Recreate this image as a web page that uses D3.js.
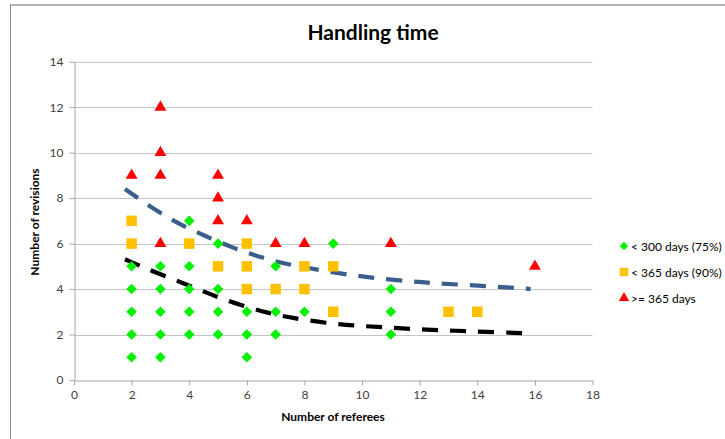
<!DOCTYPE html>
<html>
<head>
<meta charset="utf-8">
<script src="https://cdn.jsdelivr.net/npm/d3@7"></script>
<style>
  body { margin: 0; background: #fff; }
  svg { display: block; }
  text { font-family: Lato, "Liberation Sans", sans-serif; }
</style>
</head>
<body>
<svg id="chart" width="725" height="439"></svg>
<script>
// Axis ticks
const xTicks = [0, 2, 4, 6, 8, 10, 12, 14, 16, 18];
const yTicks = [0, 2, 4, 6, 8, 10, 12, 14];

// < 300 days (75%)
const fastRefs = [2, 2, 2, 2, 2, 3, 3, 3, 3, 3, 4, 4, 4, 4, 4, 5, 5, 5, 5, 6, 6, 6, 7, 7, 7, 8, 9, 11, 11, 11];
const fastRevs = [1, 2, 3, 4, 5, 1, 2, 3, 4, 5, 2, 3, 4, 5, 7, 2, 3, 4, 6, 1, 2, 3, 2, 3, 5, 3, 6, 2, 3, 4];

// < 365 days (90%)
const midRefs = [2, 2, 4, 5, 6, 6, 6, 7, 8, 8, 9, 9, 13, 14];
const midRevs = [6, 7, 6, 5, 4, 5, 6, 4, 4, 5, 3, 5, 3, 3];

// >= 365 days
const slowRefs = [2, 3, 3, 3, 3, 5, 5, 5, 6, 7, 8, 11, 16];
const slowRevs = [9, 6, 9, 10, 12, 7, 8, 9, 7, 6, 6, 6, 5];

// Trend curves
const upperTrendX = [1.77, 2.8, 3.68, 4.6, 5.53, 6.57, 7.43, 9.47, 10.5, 11.7, 12.47, 13.5, 14.55, 15.5, 15.85];
const upperTrendY = [8.4, 7.49, 6.83, 6.31, 5.8, 5.36, 5.07, 4.63, 4.48, 4.33, 4.26, 4.19, 4.11, 4.04, 4.0];
const lowerTrendX = [1.77, 2.75, 3.8, 4.78, 5.76, 6.75, 7.6, 8.77, 9.76, 10.74, 11.72, 12.77, 13.75, 14.8, 15.85];
const lowerTrendY = [5.31, 4.77, 4.26, 3.74, 3.3, 2.94, 2.72, 2.5, 2.39, 2.32, 2.24, 2.19, 2.14, 2.1, 2.05];

const legendLabels = ["< 300 days (75%)", "< 365 days (90%)", ">= 365 days"];

const svg = d3.select("#chart");

// Chart frame
svg.append("line").attr("x1", 10).attr("x2", 725).attr("y1", 5).attr("y2", 5)
  .attr("stroke", "#b4b4b4").attr("stroke-width", 2);
svg.append("line").attr("x1", 10.5).attr("x2", 10.5).attr("y1", 4).attr("y2", 439)
  .attr("stroke", "#8c8c8c").attr("stroke-width", 1);

const x = d3.scaleLinear().domain([0, 18]).range([74, 592.5]);
const y = d3.scaleLinear().domain([0, 14]).range([380, 61.7]);

// Horizontal gridlines
svg.append("g").selectAll("line").data(yTicks.filter(d => d > 0)).join("line")
  .attr("x1", x(0)).attr("x2", x(18))
  .attr("y1", d => Math.round(y(d)) + 0.5).attr("y2", d => Math.round(y(d)) + 0.5)
  .attr("stroke", "#c4c4c4").attr("stroke-width", 1);

// Axes
const xAxis = svg.append("g").attr("transform", `translate(0,${Math.round(y(0)) + 0.5})`)
  .call(d3.axisBottom(x).tickValues(xTicks).tickSize(5).tickPadding(5).tickSizeOuter(0));
const yAxis = svg.append("g").attr("transform", `translate(${Math.round(x(0)) + 0.5},0)`)
  .call(d3.axisLeft(y).tickValues(yTicks).tickSize(5).tickPadding(6).tickSizeOuter(0));
[xAxis, yAxis].forEach(g => {
  g.select(".domain").attr("stroke", "#a6a6a6");
  g.selectAll(".tick line").attr("stroke", "#a6a6a6");
  g.selectAll(".tick text").attr("fill", "#404040").style("font-size", "12px")
    .style("font-family", "Lato, 'Liberation Sans', sans-serif");
});

// Title and axis titles
svg.append("text").attr("x", 373).attr("y", 40).attr("text-anchor", "middle")
  .style("font-size", "21px").style("font-weight", "bold").attr("fill", "#000")
  .text("Handling time");
svg.append("text").attr("x", 333).attr("y", 421).attr("text-anchor", "middle")
  .style("font-size", "12px").style("font-weight", "bold").attr("fill", "#000")
  .text("Number of referees");
svg.append("text").attr("transform", "translate(39,222) rotate(-90)").attr("text-anchor", "middle")
  .style("font-size", "12px").style("font-weight", "bold").attr("fill", "#000")
  .text("Number of revisions");

// Trend lines
const trend = d3.line().x(d => x(d[0])).y(d => y(d[1])).curve(d3.curveBasis);
svg.append("path").datum(d3.zip(upperTrendX, upperTrendY)).attr("d", trend)
  .attr("fill", "none").attr("stroke", "#3b5e8c").attr("stroke-width", 4.2)
  .attr("stroke-dasharray", "16,12");
svg.append("path").datum(d3.zip(lowerTrendX, lowerTrendY)).attr("d", trend)
  .attr("fill", "none").attr("stroke", "#000").attr("stroke-width", 4.2)
  .attr("stroke-dasharray", "16,12");

// Markers
const diamond = d3.symbol().type(d3.symbolSquare).size(56);
const square = d3.symbol().type(d3.symbolSquare).size(110);
const triangle = d3.symbol().type(d3.symbolTriangle).size(62);

function markers(xs, ys, sym, color, rot) {
  svg.append("g").selectAll("path").data(d3.zip(xs, ys)).join("path")
    .attr("transform", d => `translate(${x(d[0])},${y(d[1])}) rotate(${rot})`)
    .attr("d", sym).attr("fill", color);
}
markers(fastRefs, fastRevs, diamond, "#00f000", 45);
markers(midRefs, midRevs, square, "#ffc000", 0);
markers(slowRefs, slowRevs, triangle, "#ff0000", 0);

// Legend
const legendSyms = [
  [d3.symbol().type(d3.symbolSquare).size(36), "#00f000", 45],
  [d3.symbol().type(d3.symbolSquare).size(72), "#ffc000", 0],
  [d3.symbol().type(d3.symbolTriangle).size(46), "#ff0000", 0]
];
const legendY = d3.scalePoint().domain(legendLabels).range([246, 298]);
const lg = svg.append("g");
legendLabels.forEach((lab, i) => {
  const [sym, col, rot] = legendSyms[i];
  lg.append("path").attr("transform", `translate(624,${legendY(lab)}) rotate(${rot})`)
    .attr("d", sym).attr("fill", col);
  lg.append("text").attr("x", 631).attr("y", legendY(lab) + 4.5)
    .style("font-size", "12px").attr("fill", "#000").text(lab);
});
</script>
</body>
</html>
